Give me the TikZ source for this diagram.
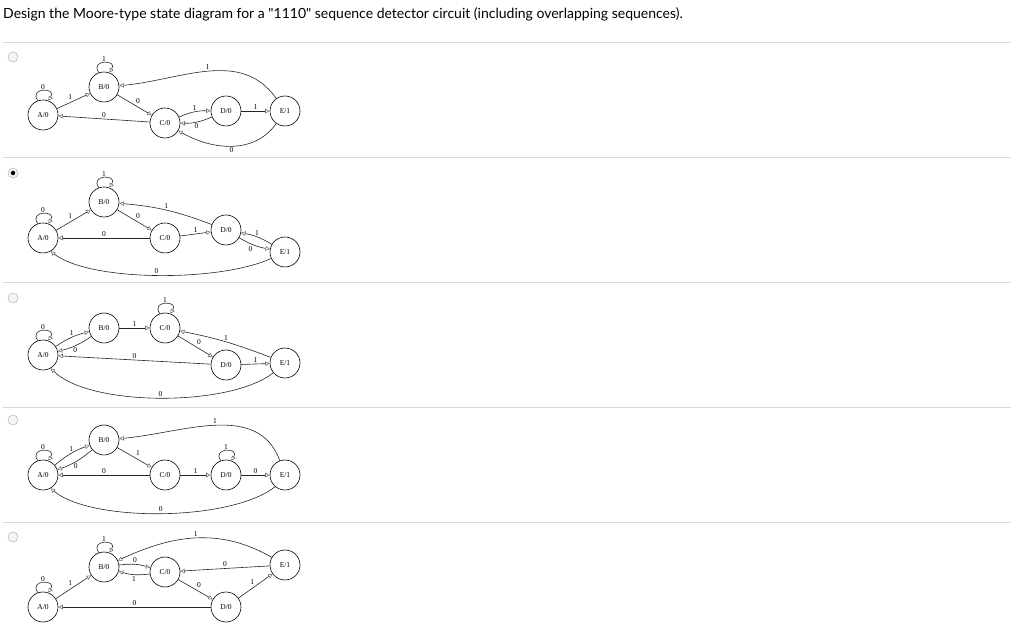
\documentclass[tikz,border=0pt]{standalone}
\usepackage{fontspec}
\setmainfont{Liberation Serif}
\newfontfamily\titlefont{Lato}
\usetikzlibrary{arrows.meta}
\begin{document}
\begin{tikzpicture}[x=1pt,y=1pt,
 st/.style={circle,draw,line width=0.6pt,minimum size=30pt,inner sep=0pt,font=\fontsize{7.5}{8}\selectfont},
 ar/.style={draw=black!85,line width=0.6pt,-{Triangle[open,length=4.5pt,width=4.5pt,color=black!55]}},
 lab/.style={font=\fontsize{7.5}{8}\selectfont,inner sep=1.2pt},
 lp/.style={out=125,in=55,looseness=4},
 sep/.style={draw=black!15,line width=0.8pt},
 radio/.style={circle,draw=black!35,fill=black!4,minimum size=10pt,inner sep=0pt}]
\useasboundingbox (0,0) rectangle (1013,627);
\node[anchor=west,font=\titlefont\fontsize{14}{16}\selectfont,inner sep=0pt] (title) at (3,613) {Design the Moore-type state diagram for a "1110" sequence detector circuit (including overlapping sequences).};
\foreach \y/\n in {585/s1,470/s2,345/s3,220/s4,105/s5}{\coordinate (\n l) at (3,\y); \coordinate (\n r) at (1011,\y); \draw[sep] (\n l) -- (\n r);}
\node[radio] (r1) at (13,570) {};
\node[radio] (r2) at (13,454) {};
\node[circle,fill=black,minimum size=4.5pt,inner sep=0pt] (r2dot) at (r2) {};
\node[radio] (r3) at (13,329) {};
\node[radio] (r4) at (13,207) {};
\node[radio] (r5) at (13,90) {};
% Diagram 1
\node[st] (a1) at (43,512) {A/0};
\node[st] (b1) at (104,540) {B/0};
\node[st] (c1) at (165,504) {C/0};
\node[st] (d1) at (226,516) {D/0};
\node[st] (e1) at (285,516) {E/1};
\draw[ar] (a1.110) to[lp] node[lab,above]{0} (a1.70);
\draw[ar] (b1.110) to[lp] node[lab,above]{1} (b1.70);
\draw[ar] (a1) -- node[lab,above left]{1} (b1);
\draw[ar] (b1) -- node[lab,above right]{0} (c1);
\draw[ar] (c1) -- node[lab,above]{0} (a1);
\draw[ar] (c1) to[bend left=12] node[lab,above]{1} (d1);
\draw[ar] (d1) to[bend left=12] node[lab,below]{0} (c1);
\draw[ar] (d1) -- node[lab,above]{1} (e1);
\draw[ar] (e1) to[out=125,in=5] node[lab,above]{1} (b1);
\draw[ar] (e1) to[out=235,in=-30] node[lab,below]{0} (c1);
% Diagram 2
\node[st] (a2) at (43,389) {A/0};
\node[st] (b2) at (104,425) {B/0};
\node[st] (c2) at (165,389) {C/0};
\node[st] (d2) at (226,397) {D/0};
\node[st] (e2) at (285,375) {E/1};
\draw[ar] (a2.110) to[lp] node[lab,above]{0} (a2.70);
\draw[ar] (b2.110) to[lp] node[lab,above]{1} (b2.70);
\draw[ar] (a2) -- node[lab,above left]{1} (b2);
\draw[ar] (b2) -- node[lab,above right]{0} (c2);
\draw[ar] (c2) -- node[lab,above]{0} (a2);
\draw[ar] (c2) -- node[lab,above]{1} (d2);
\draw[ar] (d2) to[bend right=8] node[lab,above]{1} (b2);
\draw[ar] (d2) to[bend right=10] node[lab,below left]{0} (e2);
\draw[ar] (e2) to[bend right=10] node[lab,above]{1} (d2);
\draw[ar] (e2.205) .. controls (220,345) and (90,345) .. node[lab,above]{0} (a2.-60);
% Diagram 3
\node[st] (a3) at (43,272) {A/0};
\node[st] (b3) at (104,299) {B/0};
\node[st] (c3) at (165,299) {C/0};
\node[st] (d3) at (226,262) {D/0};
\node[st] (e3) at (285,264) {E/1};
\draw[ar] (a3.110) to[lp] node[lab,above]{0} (a3.70);
\draw[ar] (c3.110) to[lp] node[lab,above]{1} (c3.70);
\draw[ar] (a3) to[bend left=10] node[lab,above]{1} (b3);
\draw[ar] (b3) to[bend left=10] node[lab,below]{0} (a3);
\draw[ar] (b3) -- node[lab,above]{1} (c3);
\draw[ar] (c3) -- node[lab,above right]{0} (d3);
\draw[ar] (d3) -- node[lab,above]{0} (a3);
\draw[ar] (d3) -- node[lab,above]{1} (e3);
\draw[ar] (e3) to[bend right=5] node[lab,above]{1} (c3);
\draw[ar] (e3.220) .. controls (230,220) and (90,220) .. node[lab,above]{0} (a3.-60);
% Diagram 4
\node[st] (a4) at (43,152) {A/0};
\node[st] (b4) at (104,187) {B/0};
\node[st] (c4) at (165,152) {C/0};
\node[st] (d4) at (226,152) {D/0};
\node[st] (e4) at (285,152) {E/1};
\draw[ar] (a4.110) to[lp] node[lab,above]{0} (a4.70);
\draw[ar] (d4.110) to[lp] node[lab,above]{1} (d4.70);
\draw[ar] (a4) to[bend left=10] node[lab,above]{1} (b4);
\draw[ar] (b4) to[bend left=10] node[lab,below]{0} (a4);
\draw[ar] (b4) -- node[lab,above right]{1} (c4);
\draw[ar] (c4) -- node[lab,above]{0} (a4);
\draw[ar] (c4) -- node[lab,above]{1} (d4);
\draw[ar] (d4) -- node[lab,above]{0} (e4);
\draw[ar] (e4) to[out=110,in=5] node[lab,above]{1} (b4);
\draw[ar] (e4.230) .. controls (230,105) and (90,105) .. node[lab,above]{0} (a4.-60);
% Diagram 5
\node[st] (a5) at (43,20) {A/0};
\node[st] (b5) at (104,60) {B/0};
\node[st] (c5) at (165,55) {C/0};
\node[st] (d5) at (226,20) {D/0};
\node[st] (e5) at (285,62) {E/1};
\draw[ar] (a5.110) to[lp] node[lab,above]{0} (a5.70);
\draw[ar] (b5.110) to[lp] node[lab,above]{1} (b5.70);
\draw[ar] (a5) -- node[lab,above left]{1} (b5);
\draw[ar] (b5) to[bend left=12] node[lab,above]{0} (c5);
\draw[ar] (c5) to[bend left=12] node[lab,below]{1} (b5);
\draw[ar] (c5) -- node[lab,above right]{0} (d5);
\draw[ar] (d5) -- node[lab,above]{0} (a5);
\draw[ar] (d5) -- node[lab,above left]{1} (e5);
\draw[ar] (e5) -- node[lab,above]{0} (c5);
\draw[ar] (e5) to[out=150,in=25] node[lab,above]{1} (b5);
\end{tikzpicture}
\end{document}
